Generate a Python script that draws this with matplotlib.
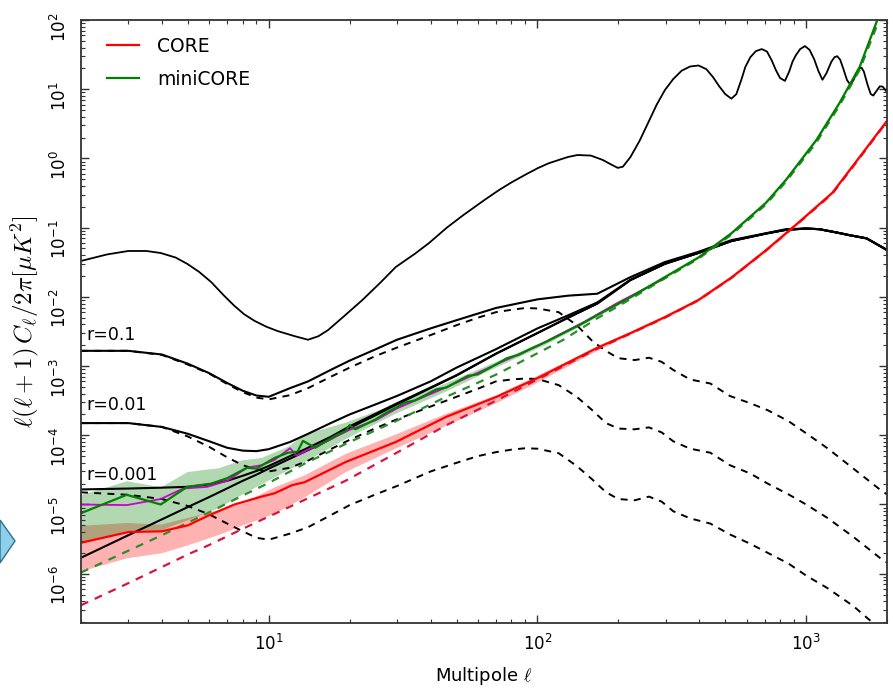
import numpy as np
import matplotlib
matplotlib.use("Agg")
from matplotlib import pyplot as plt
from matplotlib.patches import Polygon
from matplotlib.ticker import NullFormatter, FixedLocator, LogLocator

plt.rcParams['font.family'] = ['DejaVu Sans']
plt.rcParams['mathtext.fontset'] = 'dejavusans'

# ---- EE spectrum (top black line) ----
ell_ee = [2, 2.5, 3, 3.5, 3.96, 4.5, 4.97, 5.5, 6.1, 6.8, 7.45, 8.1, 8.85, 9.8, 10.8, 12.5, 14, 15.3, 16.6,
          19, 22.3, 26, 29.7, 35, 39.5, 46, 53, 63.5, 72, 80, 90, 100, 110, 120, 130, 141, 158, 175, 190,
          199, 208, 222, 240, 258, 278, 298, 320, 344, 370, 398, 425, 450, 475, 500, 527, 550, 575, 594,
          620, 650, 684, 715, 745, 771, 800, 834, 865, 890, 916, 950, 990, 1030, 1072, 1110, 1150, 1190,
          1242, 1275, 1306, 1340, 1380, 1420, 1462, 1500, 1542, 1580, 1607, 1640, 1694, 1740, 1778, 1830,
          1880, 1928, 1970, 2000]
cl_ee = [0.033, 0.041, 0.046, 0.046, 0.043, 0.037, 0.030, 0.023, 0.0164, 0.0105, 0.0074, 0.0056, 0.0045,
         0.0037, 0.0032, 0.0027, 0.0024, 0.0027, 0.0033, 0.0052, 0.009, 0.016, 0.027, 0.042, 0.060, 0.10,
         0.152, 0.251, 0.35, 0.45, 0.58, 0.72, 0.85, 0.95, 1.05, 1.12, 1.1, 0.95, 0.80, 0.73, 0.76, 1.05,
         1.8, 3.25, 6.0, 9.7, 14, 18.5, 21.3, 22, 19.5, 15, 11, 8.5, 7.3, 8.5, 14, 21, 29, 35.5, 38, 35, 26,
         19, 14.5, 13.2, 18, 25, 31, 38, 42, 37, 27, 18.5, 13.7, 17, 25, 29, 30, 26.5, 19, 13.5, 11.6, 13.5,
         17.5, 20, 20.5, 18, 11.5, 8.5, 8.1, 9.5, 11, 10.9, 9.8, 9.1]

# ---- BB totals (solid black) and lensing ----
ell_bb = [2, 3, 4, 5, 6, 7, 8, 9, 10, 12, 14, 17, 20, 25, 30, 40, 50, 70, 100, 130, 167, 222, 298, 397,
          527, 708, 841, 1000, 1119, 1300, 1446, 1679, 2000]
bb_lens = [1.7e-6, 3.6e-6, 6.1e-6, 9.2e-6, 1.28e-5, 1.71e-5, 2.2e-5, 2.7e-5, 3.3e-5, 4.6e-5, 6.1e-5, 8.8e-5,
           1.28e-4, 1.95e-4, 2.8e-4, 4.8e-4, 7.3e-4, 1.5e-3, 3.0e-3, 5.0e-3, 8.0e-3, 0.0175, 0.030, 0.043,
           0.064, 0.082, 0.093, 0.097, 0.095, 0.085, 0.078, 0.070, 0.0475]
bb_tot_r01 = [1.66e-3, 1.66e-3, 1.47e-3, 1.08e-3, 7.9e-4, 5.7e-4, 4.4e-4, 3.75e-4, 3.6e-4, 4.8e-4, 6.0e-4,
              8.8e-4, 1.2e-3, 1.75e-3, 2.4e-3, 3.5e-3, 4.6e-3, 6.9e-3, 9.2e-3, 1.04e-2, 0.0111, 0.0193, 0.0318,
              0.0447, 0.066, 0.083, 0.095, 0.097, 0.095, 0.085, 0.078, 0.070, 0.0475]
bb_tot_r001 = [1.5e-4, 1.5e-4, 1.32e-4, 1.05e-4, 8.2e-5, 6.6e-5, 6.0e-5, 5.9e-5, 6.3e-5, 8.0e-5, 1.05e-4,
               1.5e-4, 2.0e-4, 2.8e-4, 3.7e-4, 6.0e-4, 9.5e-4, 1.75e-3, 3.5e-3, 5.4e-3, 8.3e-3, 0.0177,
               0.0302, 0.0432, 0.0642, 0.082, 0.093, 0.097, 0.095, 0.085, 0.078, 0.070, 0.0475]
bb_tot_r0001 = [1.65e-5, 1.7e-5, 1.75e-5, 1.8e-5, 1.95e-5, 2.2e-5, 2.6e-5, 3.05e-5, 3.6e-5, 5.0e-5, 6.6e-5,
                9.5e-5, 1.35e-4, 2.05e-4, 2.9e-4, 4.9e-4, 7.4e-4, 1.51e-3, 3.0e-3, 5.0e-3, 8.0e-3, 0.0175,
                0.030, 0.043, 0.064, 0.082, 0.093, 0.097, 0.095, 0.085, 0.078, 0.070, 0.0475]

# ---- primordial BB (dashed black) ----
ell_t = [2, 3, 4, 5, 6, 7, 8, 9, 10, 12, 14, 17, 20, 25, 30, 40, 50, 60, 70, 80, 90, 100, 120, 140, 160, 180,
         200, 230, 260, 290, 320, 370, 440, 520, 620, 720, 860, 1000, 1200, 1500, 1880, 2000]
bb_tens_r01 = [1.66e-3, 1.66e-3, 1.45e-3, 1.05e-3, 7.8e-4, 5.5e-4, 4.2e-4, 3.5e-4, 3.3e-4, 3.8e-4, 4.8e-4,
               7.0e-4, 9.5e-4, 1.4e-3, 1.85e-3, 2.8e-3, 3.9e-3, 5.0e-3, 6.0e-3, 6.5e-3, 6.9e-3, 6.8e-3,
               6.0e-3, 3.9e-3, 2.3e-3, 1.65e-3, 1.3e-3, 1.22e-3, 1.32e-3, 1.15e-3, 8.8e-4, 6.4e-4, 5.6e-4,
               3.7e-4, 2.9e-4, 2.3e-4, 1.6e-4, 1.07e-4, 6.5e-5, 3.3e-5, 1.65e-5, 1.4e-5]
bb_tens_r001 = [1.5e-4, 1.5e-4, 1.32e-4, 9.6e-5, 6.8e-5, 4.8e-5, 3.7e-5, 3.2e-5, 3.0e-5, 3.4e-5, 4.3e-5,
                6.3e-5, 8.6e-5, 1.27e-4, 1.7e-4, 2.6e-4, 3.6e-4, 4.7e-4, 6.0e-4, 6.4e-4, 6.6e-4, 6.5e-4,
                5.3e-4, 3.6e-4, 2.3e-4, 1.5e-4, 1.25e-4, 1.22e-4, 1.3e-4, 1.1e-4, 8.2e-5, 6.4e-5, 5.6e-5,
                3.7e-5, 2.8e-5, 2.0e-5, 1.4e-5, 1.0e-5, 6.4e-6, 3.4e-6, 1.7e-6, 1.45e-6]
bb_tens_r0001 = [1.5e-5, 1.38e-5, 1.2e-5, 9.5e-6, 7.2e-6, 5.3e-6, 4.1e-6, 3.3e-6, 3.1e-6, 3.8e-6, 4.7e-6,
                 7.0e-6, 9.8e-6, 1.4e-5, 1.85e-5, 3.0e-5, 4.0e-5, 5.0e-5, 5.7e-5, 6.2e-5, 6.5e-5, 6.4e-5,
                 5.5e-5, 3.6e-5, 2.3e-5, 1.5e-5, 1.2e-5, 1.15e-5, 1.3e-5, 1.1e-5, 8.0e-6, 6.3e-6, 5.3e-6,
                 3.7e-6, 2.7e-6, 2.0e-6, 1.4e-6, 9.4e-7, 6.2e-7, 3.4e-7, 1.6e-7, 1.3e-7]
r_labels = ['r=0.1', 'r=0.01', 'r=0.001']
r_label_y = [2.35e-3, 2.3e-4, 2.25e-5]

# ---- CORE noise ----
ell_core = [2, 3, 4, 5, 6, 7.45, 9.4, 10.5, 12.2, 13.6, 19.3, 29.7, 45.8, 70.5, 100, 167, 222, 298, 397,
            527, 708, 940, 1253, 1582, 2000]
core_n = [2.8e-6, 4.0e-6, 4.1e-6, 5.0e-6, 7.0e-6, 1.0e-5, 1.3e-5, 1.45e-5, 1.9e-5, 2.1e-5, 4.1e-5, 8.0e-5,
          1.85e-4, 3.6e-4, 6.7e-4, 1.84e-3, 3.0e-3, 5.1e-3, 9.0e-3, 0.019, 0.047, 0.12, 0.32, 1.05, 3.5]
core_n_dash = [3.5e-7, 7.3e-7, 1.25e-6, 1.9e-6, 2.6e-6, 3.9e-6, 6.0e-6, 7.3e-6, 9.6e-6, 1.17e-5, 2.2e-5,
               5.5e-5, 1.4e-4, 3.2e-4, 6.4e-4, 1.78e-3, 2.95e-3, 5.0e-3, 8.9e-3, 0.0188, 0.0465, 0.118,
               0.31, 1.02, 3.4]
ell_core_band = [2, 2.96, 3.96, 4.97, 6.5, 7.9, 10.5, 13.6, 19.3, 29.7, 45.8, 70.5, 100, 167, 222, 298,
                 397, 527, 708, 940, 1253, 1582, 2000]
core_lo = [1.1e-6, 1.7e-6, 2.0e-6, 2.6e-6, 3.7e-6, 5.0e-6, 7.5e-6, 1.3e-5, 3.0e-5, 6.6e-5, 1.4e-4, 3.0e-4,
           5.9e-4, 1.7e-3, 2.88e-3, 4.9e-3, 8.65e-3, 0.0183, 0.045, 0.115, 0.31, 1.01, 3.4]
core_hi = [5.0e-6, 5.5e-6, 5.2e-6, 6.5e-6, 8.5e-6, 1.05e-5, 1.8e-5, 2.7e-5, 5.5e-5, 1.05e-4, 2.1e-4, 3.9e-4,
           7.4e-4, 1.95e-3, 3.12e-3, 5.3e-3, 9.35e-3, 0.0197, 0.049, 0.125, 0.33, 1.09, 3.6]

# ---- miniCORE noise ----
ell_mini = [2, 2.96, 3.96, 4.97, 6.1, 7.0, 8.3, 9.0, 10.5, 11.8, 12.8, 13.4, 14.9, 16, 17, 18, 19.3, 20, 21,
            23, 25, 27, 29.7, 32, 35, 38, 42, 45.8, 50, 55, 60, 65, 70.5, 77, 85, 95, 108, 125, 145, 167,
            222, 298, 397, 527, 708, 841, 1092, 1330, 1582, 1840, 2000]
mini_n = [7.5e-6, 1.38e-5, 1.0e-5, 1.8e-5, 2.0e-5, 2.4e-5, 3.4e-5, 3.3e-5, 4.7e-5, 5.6e-5, 5.8e-5, 8.3e-5,
          6.6e-5, 7.8e-5, 9.0e-5, 1.02e-4, 1.15e-4, 1.4e-4, 1.22e-4, 1.45e-4, 1.7e-4, 2.05e-4, 2.5e-4,
          2.95e-4, 3.2e-4, 3.75e-4, 4.6e-4, 4.9e-4, 5.9e-4, 7.2e-4, 7.6e-4, 9.0e-4, 1.07e-3, 1.3e-3,
          1.45e-3, 1.8e-3, 2.25e-3, 3.0e-3, 4.0e-3, 5.45e-3, 9.9e-3, 0.0193, 0.037, 0.083, 0.228, 0.49,
          1.85, 6.3, 21, 100, 210]
ell_mini_dash = [2, 4, 6, 8, 10, 13.6, 20, 29.7, 45.8, 70.5, 125, 167, 222, 298, 397, 527, 708, 841, 1092,
                 1330, 1582, 1840, 2000]
mini_n_dash = [1.04e-6, 3.6e-6, 7.7e-6, 1.35e-5, 2.05e-5, 3.9e-5, 8.0e-5, 1.6e-4, 3.6e-4, 7.6e-4, 2.4e-3,
               4.9e-3, 9.3e-3, 0.0185, 0.0355, 0.079, 0.215, 0.46, 1.7, 5.8, 19, 85, 180]
ell_mini_band = [2, 2.96, 3.96, 4.97, 6.5, 7.9, 9.4, 11.8, 13.6, 19.3, 29.7, 45.8, 70.5, 108, 167, 222, 298,
                 397, 527, 708, 841, 1092, 1330, 1582, 1840, 2000]
mini_lo = [2.8e-6, 4.2e-6, 4.3e-6, 6.0e-6, 9.0e-6, 1.4e-5, 2.0e-5, 3.2e-5, 4.2e-5, 9.0e-5, 2.1e-4, 4.4e-4,
           9.8e-4, 2.1e-3, 5.2e-3, 9.5e-3, 0.0186, 0.0356, 0.080, 0.22, 0.47, 1.78, 6.05, 20.2, 96, 202]
mini_hi = [1.4e-5, 2.2e-5, 1.8e-5, 3.0e-5, 3.4e-5, 4.4e-5, 4.8e-5, 7.0e-5, 1.05e-4, 1.55e-4, 2.9e-4,
           5.8e-4, 1.18e-3, 2.4e-3, 5.7e-3, 0.0103, 0.020, 0.0385, 0.086, 0.236, 0.51, 1.92, 6.55, 21.8, 104,
           218]
ell_mag = [2, 2.96, 3.96, 4.8, 5.9, 7.0, 8.3, 9.4, 10.5, 12, 12.7, 14, 17, 20, 25, 30, 45, 70, 100, 150,
           200, 300]
mini_mag = [1.0e-5, 9.8e-6, 1.2e-5, 1.7e-5, 1.8e-5, 2.2e-5, 3.4e-5, 3.7e-5, 4.4e-5, 6.5e-5, 5.1e-5, 6.2e-5,
            8.8e-5, 1.2e-4, 1.65e-4, 2.45e-4, 4.8e-4, 1.05e-3, 1.95e-3, 4.4e-3, 8.3e-3, 0.0188]

x_major = [10, 100, 1000]
y_major = [1e-6, 1e-5, 1e-4, 1e-3, 1e-2, 1e-1, 1e0, 1e1, 1e2]

W, H = 893, 688
fig = plt.figure(figsize=(W / 100, H / 100), dpi=100)
ax = fig.add_axes([81 / W, (H - 623) / H, (887 - 81) / W, (623 - 20) / H])

dash = (3.6, 3.2)
# bands
ax.fill_between(ell_core_band, core_lo, core_hi, color='red', alpha=0.3, lw=0)
ax.fill_between(ell_mini_band, mini_lo, mini_hi, color='green', alpha=0.3, lw=0)

# black curves
ax.plot(ell_ee, cl_ee, color='k', lw=1.3)
ax.plot(ell_bb, bb_lens, color='k', lw=1.5)
for tot in (bb_tot_r01, bb_tot_r001, bb_tot_r0001):
    ax.plot(ell_bb, tot, color='k', lw=1.5)
for tens in (bb_tens_r01, bb_tens_r001, bb_tens_r0001):
    ax.plot(ell_t, tens, color='k', lw=1.4, ls='--', dashes=dash)

# noise curves
ax.plot(ell_mag, mini_mag, color='#CC00CC', lw=1.3)
ax.plot(ell_core, core_n_dash, color='#DC143C', lw=1.6, ls='--', dashes=dash)
ax.plot(ell_mini_dash, mini_n_dash, color='#2E8B2E', lw=1.6, ls='--', dashes=dash)
ax.plot(ell_core, core_n, color='red', lw=1.6, label='CORE')
ax.plot(ell_mini, mini_n, color='green', lw=1.6, label='miniCORE')

for lab, yv in zip(r_labels, r_label_y):
    ax.text(2.1, yv, lab, fontsize=12.5, va='baseline', ha='left')

ax.set_xscale('log')
ax.set_yscale('log')
ax.set_xlim(2, 2000)
ax.set_ylim(1.94e-7, 100)
ax.xaxis.set_major_locator(FixedLocator(x_major))
ax.yaxis.set_major_locator(FixedLocator(y_major))
ax.xaxis.set_minor_locator(LogLocator(base=10, subs=np.arange(2, 10), numticks=20))
ax.yaxis.set_minor_locator(LogLocator(base=10, subs=np.arange(2, 10), numticks=20))
ax.xaxis.set_minor_formatter(NullFormatter())
ax.yaxis.set_minor_formatter(NullFormatter())
ax.tick_params(which='both', direction='in', top=True, right=True, colors='#333333', labelcolor='k')
ax.tick_params(which='major', length=6, width=1.0, labelsize=12)
ax.tick_params(which='minor', length=3, width=0.8)
ax.tick_params(axis='y', which='major', labelrotation=90, pad=8)
ax.tick_params(axis='x', which='major', pad=8)
for sp in ax.spines.values():
    sp.set_color('#333333')
    sp.set_linewidth(1.3)

ax.set_xlabel(r'Multipole $\ell$', fontsize=13, math_fontfamily='cm')
ax.xaxis.set_label_coords(0.5, -0.07)
ax.set_ylabel(r'$\ell(\ell+1)\,C_\ell/2\pi[\mu K^2]$', fontsize=18, math_fontfamily='cm')
ax.yaxis.set_label_coords(-0.05, 0.5)

ax.legend(loc='upper left', bbox_to_anchor=(0.032, 0.972), frameon=False, fontsize=13.5,
          borderaxespad=0, borderpad=0, handlelength=1.7, handletextpad=1.0, labelspacing=0.75)

# slide arrow fragment at the left edge
arrow_px = [(0, 520), (15, 541), (0, 563)]
arrow = Polygon([(x / W, 1 - y / H) for x, y in arrow_px], closed=True, transform=fig.transFigure,
                facecolor='#8ECFEA', edgecolor='#2F6F8F', lw=1.0, clip_on=False)
fig.patches.append(arrow)

fig.savefig('out.png', dpi=100)
